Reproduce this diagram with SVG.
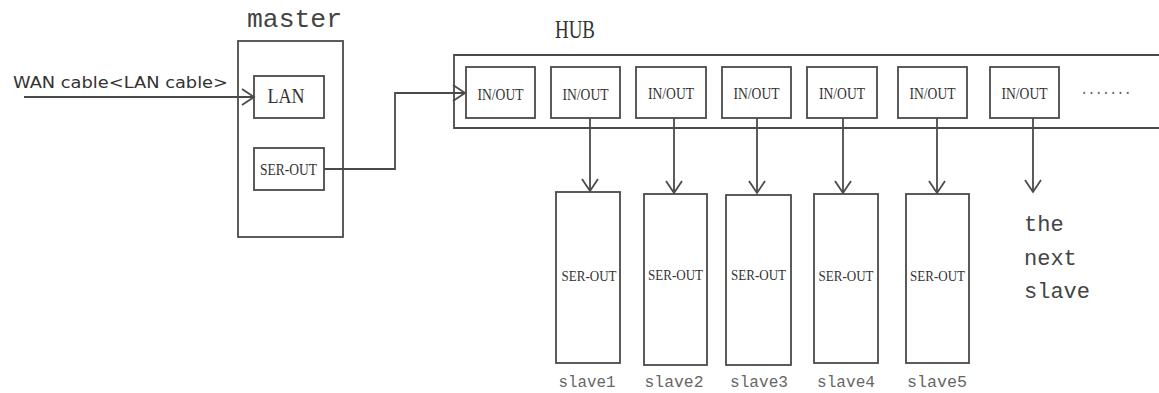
<svg xmlns="http://www.w3.org/2000/svg" width="1159" height="393" viewBox="0 0 1159 393">
<style>
.box{fill:none;stroke:#4a4a4a;stroke-width:1.8}
.ln{fill:none;stroke:#4a4a4a;stroke-width:1.8}
.srf{font-family:"Liberation Serif",serif;fill:#333;text-anchor:middle}
.mono{font-family:"Liberation Mono",monospace;fill:#444}
.gray{fill:#666;text-anchor:middle}
</style>
<defs>
<marker id="arr" markerUnits="userSpaceOnUse" viewBox="-14 -10 16 20" markerWidth="16" markerHeight="20" refX="0" refY="0" orient="auto">
<path d="M-12,-8 L0,0 L-12,8" fill="none" stroke="#4a4a4a" stroke-width="1.8"/>
</marker>
</defs>
<rect width="1159" height="393" fill="#fff"/>

<g id="wan-label">
<text x="13" y="88" font-family="DejaVu Sans,sans-serif" font-size="15" fill="#333" textLength="215" lengthAdjust="spacingAndGlyphs">WAN cable&lt;LAN cable&gt;</text>
</g>

<g id="master">
<text class="mono" x="247" y="27" font-size="25" textLength="95" lengthAdjust="spacingAndGlyphs">master</text>
<rect class="box" x="238" y="41" width="105" height="196"/>
</g>
<g id="master-lan">
<rect class="box" x="254" y="76" width="70" height="42"/>
<text class="srf" x="286" y="103" font-size="22" textLength="37" lengthAdjust="spacingAndGlyphs">LAN</text>
</g>
<g id="master-serout">
<rect class="box" x="254" y="148" width="70" height="42"/>
<text class="srf" x="288.5" y="175" font-size="16" textLength="57" lengthAdjust="spacingAndGlyphs">SER-OUT</text>
</g>

<g id="hub">
<text class="srf" x="575" y="38" font-size="26" textLength="40" lengthAdjust="spacingAndGlyphs">HUB</text>
<path class="box" d="M1160,55 H454 V128 H1160"/>
<text x="1106" y="94" font-family="Liberation Mono,monospace" font-size="14" fill="#666" text-anchor="middle" textLength="52" lengthAdjust="spacing">.......</text>
</g>
<g id="io1"><rect class="box" x="466" y="67" width="69" height="51"/><text class="srf" x="500.5" y="100" font-size="17" textLength="46" lengthAdjust="spacingAndGlyphs">IN/OUT</text></g>
<g id="io2"><rect class="box" x="551" y="67" width="69" height="51"/><text class="srf" x="585.5" y="100" font-size="17" textLength="46" lengthAdjust="spacingAndGlyphs">IN/OUT</text></g>
<g id="io3"><rect class="box" x="636" y="67" width="70" height="51"/><text class="srf" x="671" y="99" font-size="17" textLength="46" lengthAdjust="spacingAndGlyphs">IN/OUT</text></g>
<g id="io4"><rect class="box" x="722" y="67" width="69" height="51"/><text class="srf" x="756.5" y="99" font-size="17" textLength="46" lengthAdjust="spacingAndGlyphs">IN/OUT</text></g>
<g id="io5"><rect class="box" x="807" y="67" width="70" height="51"/><text class="srf" x="842" y="99" font-size="17" textLength="46" lengthAdjust="spacingAndGlyphs">IN/OUT</text></g>
<g id="io6"><rect class="box" x="898" y="67" width="69" height="51"/><text class="srf" x="932.5" y="99" font-size="17" textLength="46" lengthAdjust="spacingAndGlyphs">IN/OUT</text></g>
<g id="io7"><rect class="box" x="990" y="67" width="69" height="51"/><text class="srf" x="1024.5" y="99" font-size="17" textLength="46" lengthAdjust="spacingAndGlyphs">IN/OUT</text></g>

<g id="slave1"><rect class="box" x="556" y="192" width="64" height="171"/><text class="srf" x="589" y="281" font-size="15" textLength="55" lengthAdjust="spacingAndGlyphs">SER-OUT</text><text class="mono gray" x="587" y="387" font-size="16" textLength="57" lengthAdjust="spacingAndGlyphs">slave1</text></g>
<g id="slave2"><rect class="box" x="644" y="194" width="63" height="171"/><text class="srf" x="675.5" y="280" font-size="15" textLength="55" lengthAdjust="spacingAndGlyphs">SER-OUT</text><text class="mono gray" x="674" y="387" font-size="16" textLength="59" lengthAdjust="spacingAndGlyphs">slave2</text></g>
<g id="slave3"><rect class="box" x="726" y="195" width="65" height="170"/><text class="srf" x="758.5" y="280" font-size="15" textLength="55" lengthAdjust="spacingAndGlyphs">SER-OUT</text><text class="mono gray" x="759" y="387" font-size="16" textLength="58" lengthAdjust="spacingAndGlyphs">slave3</text></g>
<g id="slave4"><rect class="box" x="814" y="194" width="64" height="169"/><text class="srf" x="846" y="281" font-size="15" textLength="55" lengthAdjust="spacingAndGlyphs">SER-OUT</text><text class="mono gray" x="846" y="387" font-size="16" textLength="58" lengthAdjust="spacingAndGlyphs">slave4</text></g>
<g id="slave5"><rect class="box" x="906" y="194" width="63" height="169"/><text class="srf" x="937.5" y="281" font-size="15" textLength="55" lengthAdjust="spacingAndGlyphs">SER-OUT</text><text class="mono gray" x="937" y="387" font-size="16" textLength="60" lengthAdjust="spacingAndGlyphs">slave5</text></g>

<g id="next-slave">
<text class="mono" font-size="22" fill="#444"><tspan x="1024" y="231">the</tspan><tspan x="1024" y="265">next</tspan><tspan x="1024" y="298">slave</tspan></text>
</g>

<g id="connectors">
<path class="ln" d="M24,97 H254" marker-end="url(#arr)"/>
<path class="ln" d="M324,169 H395 V93 H465" marker-end="url(#arr)"/>
<path class="ln" d="M590,118 V191" marker-end="url(#arr)"/>
<path class="ln" d="M674,118 V193" marker-end="url(#arr)"/>
<path class="ln" d="M757,118 V193" marker-end="url(#arr)"/>
<path class="ln" d="M843,118 V193" marker-end="url(#arr)"/>
<path class="ln" d="M937,118 V193" marker-end="url(#arr)"/>
<path class="ln" d="M1033,118 V192" marker-end="url(#arr)"/>
</g>
</svg>
